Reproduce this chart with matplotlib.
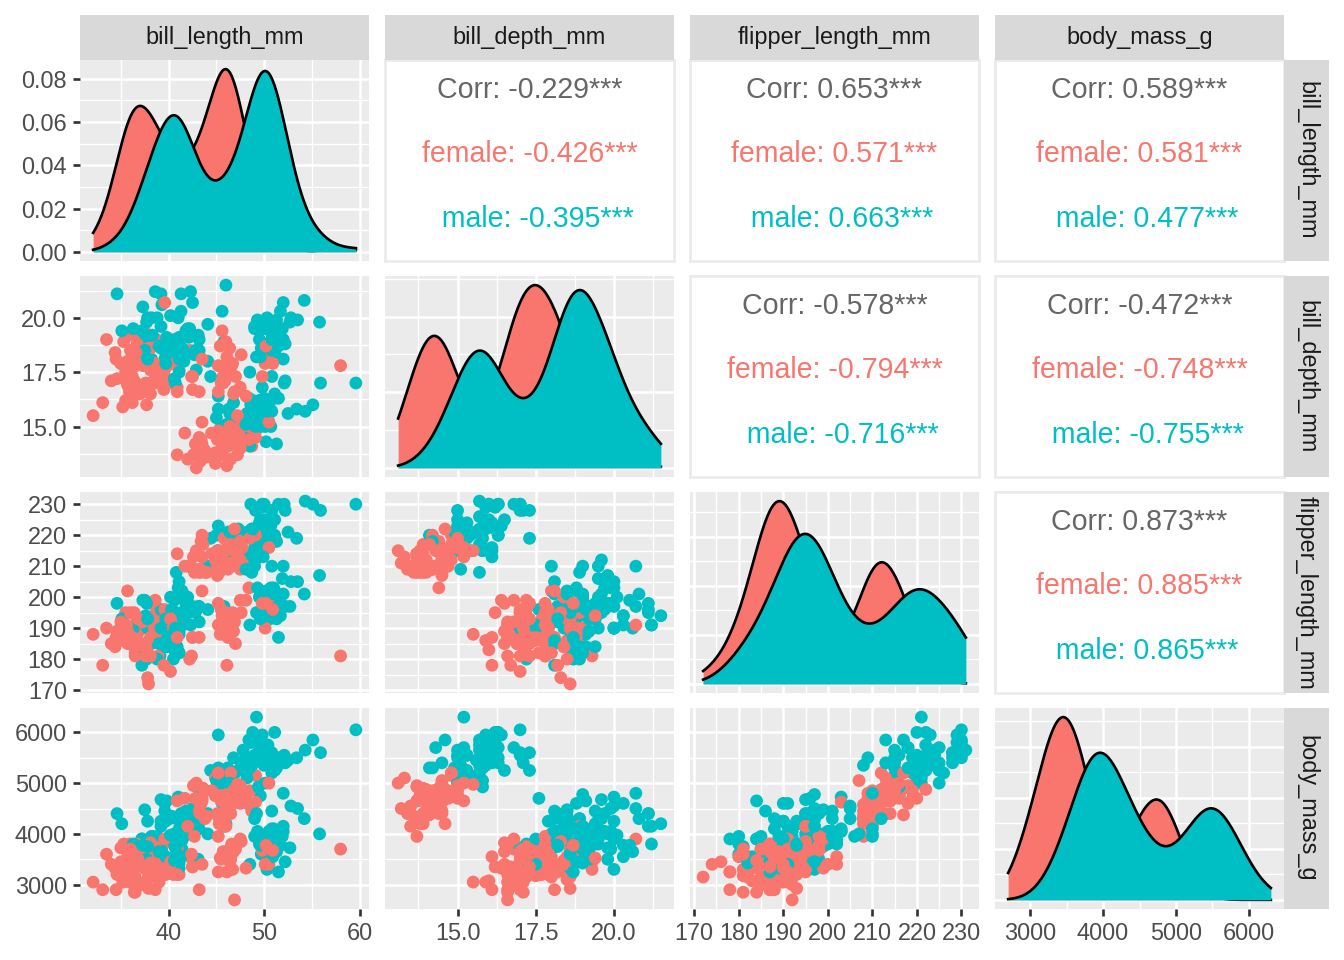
import numpy as np
import matplotlib
matplotlib.use("Agg")
import matplotlib.pyplot as plt
from matplotlib.ticker import MultipleLocator, MaxNLocator, AutoMinorLocator, FormatStrFormatter
from itertools import zip_longest

plt.rcParams['font.family'] = ['Liberation Sans', 'DejaVu Sans']

variables = ["bill_length_mm", "bill_depth_mm", "flipper_length_mm", "body_mass_g"]
sex_names = ["female", "male"]
sex_colors = ["#F8766D", "#00BFC4"]

# rows per species inside each sex list: Adelie, Chinstrap, Gentoo
female_counts = [73, 34, 58]
male_counts = [73, 34, 61]

female_bill_length = [
    39.5, 40.3, 36.7, 38.9, 41.1, 36.6, 38.7, 34.4, 37.8, 35.9,
    35.3, 40.5, 37.9, 39.5, 39.5, 36.4, 42.2, 37.6, 36.5, 36.0,
    37.0, 36.0, 39.6, 35.0, 34.5, 39.0, 36.5, 35.7, 37.6, 36.4,
    35.5, 35.9, 33.5, 39.6, 35.5, 40.9, 36.2, 34.6, 36.7, 37.3,
    36.9, 38.9, 35.7, 34.0, 36.2, 38.1, 33.1, 35.0, 37.7, 37.9,
    38.6, 38.1, 38.1, 39.7, 39.6, 38.6, 35.7, 36.2, 40.2, 35.2,
    38.8, 39.0, 38.5, 36.8, 38.1, 35.6, 37.0, 40.2, 32.1, 37.3,
    36.6, 36.0, 36.0,
    46.5, 45.4, 45.2, 46.1, 46.0, 46.6, 47.0, 45.9, 58.0, 46.4,
    42.4, 43.2, 46.7, 50.5, 46.4, 40.9, 42.5, 47.5, 47.6, 46.9,
    46.2, 45.5, 50.9, 50.1, 49.8, 48.1, 45.7, 42.5, 45.2, 45.6,
    46.8, 45.7, 43.5, 50.2,
    46.1, 48.7, 46.5, 45.4, 43.3, 40.9, 45.5, 45.8, 42.0, 46.2,
    45.1, 46.5, 42.9, 48.2, 42.8, 45.1, 49.1, 42.6, 44.0, 42.7,
    45.3, 43.6, 45.5, 44.9, 46.6, 45.1, 46.5, 43.8, 43.2, 45.3,
    45.7, 45.8, 43.5, 47.7, 46.5, 46.4, 47.5, 45.2, 49.1, 47.4,
    44.9, 43.4, 47.5, 47.5, 45.5, 44.5, 46.9, 48.4, 48.5, 47.2,
    41.7, 43.3, 50.5, 43.5, 46.2, 47.2, 46.8, 45.2,
]
female_bill_depth = [
    17.4, 18.0, 19.3, 17.8, 17.6, 17.8, 19.0, 18.4, 18.3, 19.2,
    18.9, 17.9, 18.6, 16.7, 17.8, 17.0, 18.5, 19.3, 18.0, 18.5,
    16.9, 17.9, 17.7, 17.9, 18.1, 17.5, 16.6, 16.9, 17.0, 17.1,
    16.2, 16.6, 19.0, 17.2, 17.5, 16.8, 16.1, 17.2, 18.8, 17.8,
    18.6, 18.8, 18.0, 17.1, 17.3, 18.6, 16.1, 17.9, 16.0, 18.6,
    17.2, 17.0, 16.5, 17.7, 20.7, 17.0, 17.0, 17.2, 17.0, 15.9,
    17.6, 17.1, 17.9, 18.5, 17.6, 17.5, 16.5, 17.1, 15.5, 16.8,
    18.4, 17.8, 17.1,
    17.9, 18.7, 17.8, 18.2, 18.9, 17.8, 17.3, 17.1, 17.8, 18.6,
    17.3, 16.6, 17.9, 18.4, 17.8, 16.6, 16.7, 16.8, 18.3, 16.6,
    17.5, 17.0, 17.9, 17.9, 17.3, 16.4, 17.3, 17.3, 16.6, 19.4,
    16.5, 17.0, 18.1, 18.7,
    13.2, 14.1, 13.5, 14.6, 13.4, 13.7, 13.7, 14.6, 13.5, 14.5,
    14.5, 14.5, 13.1, 14.3, 14.2, 14.5, 14.8, 13.7, 13.6, 13.7,
    13.7, 13.9, 13.9, 13.3, 14.2, 14.4, 14.4, 13.9, 14.5, 13.8,
    13.9, 14.2, 14.2, 15.0, 14.8, 15.0, 14.2, 13.8, 14.5, 14.6,
    13.8, 14.4, 14.0, 15.0, 14.5, 14.7, 14.6, 14.4, 15.0, 15.5,
    14.7, 14.0, 15.2, 15.2, 14.1, 13.7, 14.3, 14.8,
]
female_flipper_length = [
    186, 195, 193, 181, 182, 185, 195, 184, 174, 189,
    187, 187, 172, 178, 188, 195, 180, 181, 182, 186,
    185, 190, 186, 190, 187, 186, 181, 185, 185, 184,
    195, 190, 190, 196, 190, 191, 187, 189, 187, 191,
    189, 190, 202, 185, 187, 190, 178, 192, 183, 193,
    199, 181, 198, 193, 191, 188, 189, 187, 176, 186,
    191, 191, 190, 193, 187, 191, 185, 193, 188, 192,
    184, 195, 187,
    192, 188, 198, 178, 195, 193, 185, 190, 181, 190,
    181, 187, 195, 200, 191, 187, 187, 199, 195, 192,
    187, 196, 196, 190, 198, 199, 193, 187, 191, 194,
    189, 195, 202, 198,
    211, 210, 210, 211, 209, 214, 214, 210, 210, 209,
    215, 213, 215, 210, 209, 207, 220, 213, 208, 208,
    210, 217, 210, 213, 210, 210, 217, 208, 208, 208,
    214, 219, 220, 216, 217, 216, 209, 215, 212, 212,
    212, 218, 212, 218, 212, 214, 222, 203, 219, 215,
    210, 208, 216, 213, 217, 214, 215, 212,
]
female_body_mass = [
    3800, 3250, 3450, 3625, 3200, 3700, 3450, 3325, 3400, 3800,
    3800, 3200, 3150, 3250, 3300, 3325, 3550, 3300, 3150, 3100,
    3000, 3450, 3500, 3450, 2900, 3550, 2850, 3150, 3600, 2850,
    3350, 3050, 3600, 3550, 3700, 3700, 3550, 3200, 3800, 3350,
    3500, 3600, 3550, 3400, 3300, 3700, 2900, 3725, 3075, 2925,
    3750, 3175, 3825, 3200, 3900, 2900, 3350, 3150, 3450, 3050,
    3275, 3050, 3325, 3500, 3425, 3175, 3400, 3400, 3050, 3000,
    3475, 3450, 3700,
    3500, 3525, 3950, 3250, 4150, 3800, 3700, 3575, 3700, 3450,
    3600, 2900, 3300, 3400, 3700, 3200, 3350, 3900, 3850, 2700,
    3650, 3500, 3675, 3400, 3675, 3325, 3600, 3350, 3250, 3525,
    3650, 3650, 3400, 3775,
    4500, 4450, 4550, 4800, 4400, 4650, 4650, 4200, 4150, 4800,
    5000, 4400, 5000, 4600, 4700, 5050, 5150, 4950, 4350, 3950,
    4300, 4900, 4200, 5100, 4850, 4400, 4900, 4300, 4450, 4200,
    4400, 4700, 4700, 4750, 5200, 4700, 4600, 4750, 4625, 4725,
    4750, 4600, 4875, 4950, 4750, 4850, 4875, 4625, 4850, 4975,
    4700, 4575, 5000, 4650, 4375, 4925, 4850, 5200,
]

male_bill_length = [
    39.1, 39.3, 39.2, 38.6, 34.6, 42.5, 46.0, 37.7, 38.2, 38.8,
    40.6, 40.5, 37.2, 40.9, 39.2, 38.8, 39.8, 40.8, 44.1, 39.6,
    41.1, 42.3, 40.1, 42.0, 41.4, 40.6, 37.6, 41.3, 41.1, 41.6,
    41.1, 41.8, 39.7, 45.8, 42.8, 37.2, 42.1, 42.9, 35.1, 41.3,
    36.3, 38.3, 41.1, 39.6, 40.8, 40.3, 43.2, 41.0, 37.8, 39.7,
    38.2, 43.2, 45.6, 42.2, 42.7, 37.3, 41.1, 37.7, 41.4, 40.6,
    41.5, 44.1, 43.1, 37.5, 41.1, 40.2, 39.7, 40.6, 40.7, 39.0,
    39.2, 37.8, 41.5,
    50.0, 51.3, 52.7, 51.3, 51.3, 51.7, 52.0, 50.5, 50.3, 49.2,
    48.5, 50.6, 52.0, 49.5, 52.8, 54.2, 51.0, 49.7, 52.0, 53.5,
    49.0, 50.9, 50.8, 49.0, 51.5, 51.4, 50.7, 52.2, 49.3, 50.2,
    51.9, 55.8, 49.6, 50.8,
    50.0, 50.0, 47.6, 46.7, 46.8, 49.0, 48.4, 49.3, 49.2, 48.7,
    50.2, 46.3, 46.1, 47.8, 50.0, 47.3, 59.6, 48.4, 44.4, 48.7,
    49.6, 49.6, 50.5, 50.5, 45.2, 48.5, 50.1, 45.0, 45.5, 50.4,
    46.2, 54.3, 49.8, 49.5, 50.7, 46.4, 48.2, 48.6, 51.1, 45.2,
    52.5, 50.0, 50.8, 51.3, 52.1, 52.2, 49.5, 50.8, 49.4, 51.1,
    55.9, 49.1, 46.8, 53.4, 48.1, 49.8, 51.5, 55.1, 48.8, 50.4,
    49.9,
]
male_bill_depth = [
    18.7, 20.6, 19.6, 21.2, 21.1, 20.7, 21.5, 18.7, 18.1, 17.2,
    18.6, 18.9, 18.1, 18.9, 21.1, 20.0, 19.1, 18.4, 19.7, 18.8,
    19.0, 21.2, 18.9, 19.5, 18.6, 18.8, 19.1, 21.1, 18.2, 18.0,
    19.1, 19.4, 18.4, 18.9, 18.5, 19.4, 19.1, 17.6, 19.4, 20.3,
    19.5, 19.2, 18.1, 18.1, 18.9, 18.5, 18.5, 20.0, 20.0, 18.9,
    20.0, 19.0, 20.3, 19.5, 18.3, 20.5, 18.6, 19.8, 18.5, 19.0,
    18.3, 18.0, 19.2, 18.5, 17.5, 20.1, 17.9, 17.2, 17.0, 18.7,
    18.6, 18.1, 18.5,
    19.5, 19.2, 19.8, 18.2, 19.9, 20.3, 18.1, 19.6, 20.0, 18.2,
    17.5, 19.4, 19.0, 19.0, 20.0, 20.8, 18.8, 18.6, 20.7, 19.9,
    19.5, 19.1, 18.5, 19.6, 18.7, 19.0, 19.7, 18.8, 19.9, 18.8,
    19.5, 19.8, 18.2, 19.0,
    16.3, 15.2, 14.5, 15.3, 15.4, 16.1, 14.6, 15.7, 15.2, 15.1,
    14.3, 15.8, 15.1, 15.0, 15.3, 15.3, 17.0, 16.3, 17.3, 15.7,
    16.0, 15.0, 15.9, 15.9, 15.8, 14.1, 15.0, 15.4, 15.0, 15.3,
    14.9, 15.7, 16.8, 16.2, 15.0, 15.6, 15.6, 16.0, 16.3, 16.4,
    15.6, 15.9, 17.3, 14.2, 17.0, 17.1, 16.1, 15.7, 15.8, 16.5,
    17.0, 15.0, 16.1, 15.8, 15.1, 15.9, 16.3, 16.0, 16.2, 15.7,
    16.1,
]
male_flipper_length = [
    181, 190, 195, 191, 198, 197, 194, 180, 185, 180,
    183, 180, 178, 184, 196, 190, 184, 195, 196, 190,
    182, 191, 188, 200, 191, 193, 194, 195, 192, 192,
    188, 198, 190, 197, 195, 184, 195, 196, 193, 194,
    190, 189, 205, 186, 208, 196, 192, 203, 190, 184,
    190, 197, 191, 197, 196, 199, 189, 198, 202, 199,
    195, 210, 197, 199, 190, 200, 193, 187, 190, 185,
    190, 193, 201,
    196, 193, 197, 197, 198, 194, 201, 201, 197, 195,
    191, 193, 197, 200, 205, 201, 203, 195, 210, 205,
    210, 196, 201, 212, 187, 201, 203, 197, 203, 202,
    206, 207, 193, 210,
    230, 218, 215, 219, 215, 216, 213, 217, 221, 222,
    218, 215, 215, 215, 220, 222, 230, 220, 219, 208,
    225, 216, 222, 225, 215, 220, 225, 220, 220, 224,
    221, 231, 230, 229, 223, 221, 221, 230, 220, 223,
    221, 224, 228, 218, 230, 228, 224, 226, 216, 225,
    228, 228, 215, 219, 209, 229, 230, 230, 222, 222,
    213,
]
male_body_mass = [
    3750, 3650, 4675, 3800, 4400, 4500, 4200, 3600, 3950, 3800,
    3550, 3950, 3900, 3900, 4150, 3950, 4650, 3900, 4400, 4600,
    3425, 4150, 4300, 4050, 3700, 3800, 3750, 4400, 4050, 3950,
    4100, 4450, 3900, 4150, 4250, 3900, 4000, 4700, 4200, 3550,
    3800, 3950, 4300, 4450, 4300, 4350, 4100, 4725, 4250, 3550,
    3900, 4775, 4600, 4275, 4075, 3775, 3325, 3500, 3875, 4000,
    4300, 4000, 3500, 4475, 3900, 3975, 4250, 3475, 3725, 3650,
    4250, 3750, 4000,
    3900, 3650, 3725, 3750, 3700, 3775, 4050, 4050, 3300, 4400,
    3400, 3800, 4150, 3800, 4550, 4300, 4100, 3600, 4800, 4500,
    3950, 3550, 4450, 4300, 3250, 3950, 4050, 3450, 4050, 3800,
    3950, 4000, 3775, 4100,
    5700, 5700, 5400, 5200, 5150, 5550, 5850, 5850, 6300, 5350,
    5700, 5050, 5100, 5650, 5550, 5250, 6050, 5400, 5250, 5350,
    5700, 4750, 5550, 5400, 5300, 5300, 5000, 5050, 5000, 5550,
    5300, 5650, 5700, 5800, 5550, 5000, 5100, 5800, 6000, 5950,
    5450, 5350, 5600, 5300, 5550, 5400, 5650, 5200, 4925, 5250,
    5600, 5500, 5500, 5500, 5500, 5950, 5500, 5850, 6000, 5750,
    5400,
]

# correlation labels (upper triangle)
corr_pairs = [(0, 1), (0, 2), (0, 3), (1, 2), (1, 3), (2, 3)]
corr_overall = ["-0.229***", "0.653***", "0.589***", "-0.578***", "-0.472***", "0.873***"]
corr_female = ["-0.426***", "0.571***", "0.581***", "-0.794***", "-0.748***", "0.885***"]
corr_male = ["-0.395***", "0.663***", "0.477***", "-0.716***", "-0.755***", "0.865***"]

tick_steps = [10, 2.5, 10, 1000]
tick_formats = ["%.0f", "%.1f", "%.0f", "%.0f"]

female = [np.array(v, float) for v in (female_bill_length, female_bill_depth, female_flipper_length, female_body_mass)]
male = [np.array(v, float) for v in (male_bill_length, male_bill_depth, male_flipper_length, male_body_mass)]
by_sex = [female, male]

# mimic dataset row order: species Adelie, Gentoo, Chinstrap, sexes alternating
f_start = np.cumsum([0] + female_counts)
m_start = np.cumsum([0] + male_counts)
order_sex, order_idx = [], []
for k in [0, 2, 1]:
    fi = range(f_start[k], f_start[k + 1])
    mi = range(m_start[k], m_start[k + 1])
    for a, b in zip_longest(fi, mi):
        if a is not None:
            order_sex.append(0); order_idx.append(a)
        if b is not None:
            order_sex.append(1); order_idx.append(b)


def column(v):
    return np.array([by_sex[s][v][i] for s, i in zip(order_sex, order_idx)])


point_colors = [sex_colors[s] for s in order_sex]


def limits(v):
    allv = np.concatenate([female[v], male[v]])
    lo, hi = allv.min(), allv.max()
    pad = (hi - lo) * 0.05
    return lo - pad, hi + pad, lo, hi


def kde(vals, grid):
    n = len(vals)
    sd = vals.std(ddof=1)
    iqr = np.subtract(*np.percentile(vals, [75, 25]))
    bw = 0.9 * min(sd, iqr / 1.34) * n ** -0.2
    z = (grid[:, None] - vals[None, :]) / bw
    return np.exp(-0.5 * z ** 2).sum(1) / (n * bw * np.sqrt(2 * np.pi))


W, H = 1344, 960
fig = plt.figure(figsize=(7, 5), dpi=192)

col_left = [80, 385, 690, 995]
row_top = [60, 276, 492, 708]
pw, ph = 289, 201


def px_axes(x, y, w, h):
    return fig.add_axes([x / W, 1 - (y + h) / H, w / W, h / H])


tick_kw = dict(length=2.75, width=1.0, color="#333333", labelcolor="#4D4D4D",
               labelsize=8.8, pad=2.2)


def style_gg(ax, i, j):
    ax.set_facecolor("#EBEBEB")
    for s in ax.spines.values():
        s.set_visible(False)
    ax.set_axisbelow(True)
    ax.grid(which="major", color="white", lw=0.95)
    ax.grid(which="minor", color="white", lw=0.5)
    ax.tick_params(which="minor", length=0)
    ax.tick_params(which="major", **tick_kw)
    if i != 3:
        ax.tick_params(axis="x", which="both", length=0, labelbottom=False)
    if j != 0:
        ax.tick_params(axis="y", which="both", length=0, labelleft=False)


for i in range(4):
    for j in range(4):
        ax = px_axes(col_left[j], row_top[i], pw, ph)
        xlo, xhi, xmin, xmax = limits(j)
        if i < j:
            # correlation text panel
            ax.set_facecolor("white")
            for s in ax.spines.values():
                s.set_color("#EBEBEB")
                s.set_linewidth(1.0)
            ax.set_xticks([]); ax.set_yticks([])
            k = corr_pairs.index((i, j))
            ax.text(0.5, 0.85, "Corr: " + corr_overall[k], color="#666666",
                    fontsize=10.7, ha="center", va="center", transform=ax.transAxes)
            ax.text(0.5, 0.53, "female: " + corr_female[k], color=sex_colors[0],
                    fontsize=10.7, ha="center", va="center", transform=ax.transAxes)
            ax.text(0.5, 0.21, "  male: " + corr_male[k], color=sex_colors[1],
                    fontsize=10.7, ha="center", va="center", transform=ax.transAxes)
            continue

        ax.set_xlim(xlo, xhi)
        ax.xaxis.set_major_locator(MultipleLocator(tick_steps[j]))
        ax.xaxis.set_minor_locator(MultipleLocator(tick_steps[j] / 2))
        ax.xaxis.set_major_formatter(FormatStrFormatter(tick_formats[j]))

        if i == j:
            grid = np.linspace(xmin, xmax, 512)
            dens = [kde(by_sex[s][j], grid) for s in range(2)]
            top = max(d.max() for d in dens)
            for s in range(2):
                ax.fill_between(grid, 0, dens[s], color=sex_colors[s], lw=0, zorder=2 + 2 * s)
                ax.plot(grid, dens[s], color="black", lw=1.0, zorder=3 + 2 * s)
            ax.set_ylim(-0.05 * top, 1.05 * top)
            ax.yaxis.set_major_locator(MaxNLocator(nbins=5, steps=[1, 2, 2.5, 5, 10]))
            ax.yaxis.set_minor_locator(AutoMinorLocator(2))
            ax.yaxis.set_major_formatter(FormatStrFormatter("%.2f"))
        else:
            ylo, yhi, _, _ = limits(i)
            ax.scatter(column(j), column(i), s=23, c=point_colors, linewidths=0)
            ax.set_ylim(ylo, yhi)
            ax.yaxis.set_major_locator(MultipleLocator(tick_steps[i]))
            ax.yaxis.set_minor_locator(MultipleLocator(tick_steps[i] / 2))
            ax.yaxis.set_major_formatter(FormatStrFormatter(tick_formats[i]))
        style_gg(ax, i, j)

# strips
for j, name in enumerate(variables):
    sx = px_axes(col_left[j], 15, pw, 45)
    sx.set_facecolor("#D9D9D9")
    sx.set_xticks([]); sx.set_yticks([])
    for s in sx.spines.values():
        s.set_visible(False)
    sx.text(0.5, 0.5, name, color="#1A1A1A", fontsize=8.8, ha="center", va="center",
            transform=sx.transAxes)
for i, name in enumerate(variables):
    sy = px_axes(1284, row_top[i], 45, ph)
    sy.set_facecolor("#D9D9D9")
    sy.set_xticks([]); sy.set_yticks([])
    for s in sy.spines.values():
        s.set_visible(False)
    sy.text(0.5, 0.5, name, color="#1A1A1A", fontsize=8.8, ha="center", va="center",
            rotation=-90, transform=sy.transAxes)

fig.savefig("out.png", dpi=192, facecolor="white")
